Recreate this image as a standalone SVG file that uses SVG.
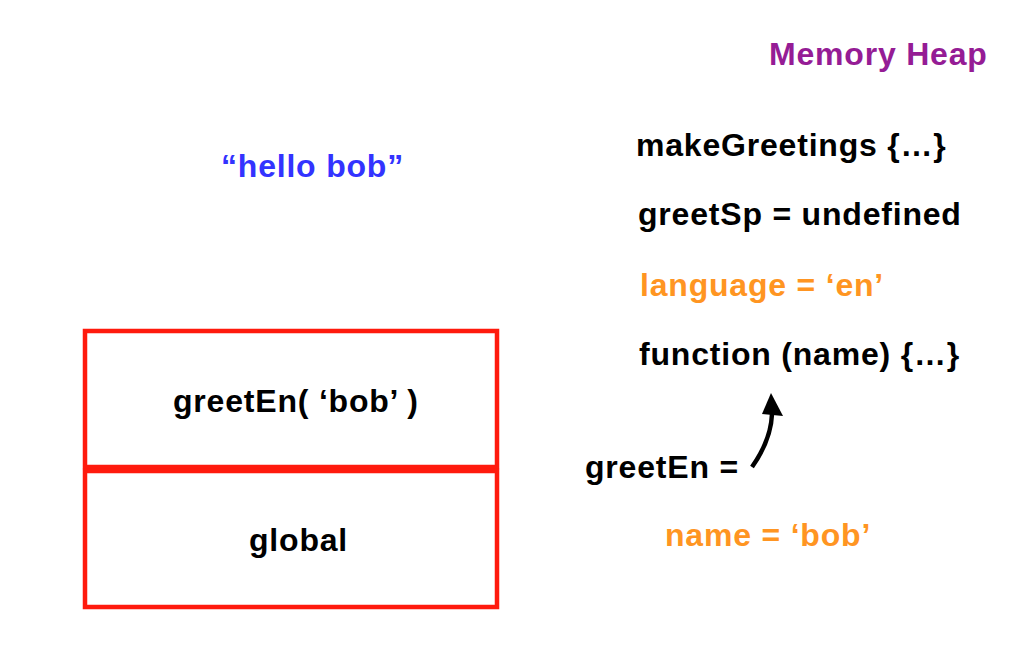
<svg xmlns="http://www.w3.org/2000/svg" width="1024" height="667" viewBox="0 0 1024 667">
<style>
text{font-family:"Liberation Sans",Arial,sans-serif;font-weight:bold;font-size:32px;letter-spacing:0.8px;fill:#000}
.purple{fill:#951C95}
.blue{fill:#3333FF}
.orange{fill:#FF9522}
.box{fill:none;stroke:#FF1A0D;stroke-width:4.5}
</style>
<rect width="1024" height="667" fill="#fff"/>
<text class="purple" x="769" y="65">Memory Heap</text>
<text class="blue" x="221" y="177">“hello bob”</text>
<g id="stack">
<g id="frame-greetEn">
<rect class="box" x="85" y="331" width="412" height="136"/>
<text x="173" y="412">greetEn( ‘bob’ )</text>
</g>
<g id="frame-global">
<rect class="box" x="85" y="471" width="412" height="136"/>
<text x="249" y="551">global</text>
</g>
</g>
<g id="heap">
<text x="636" y="156">makeGreetings {…}</text>
<text x="638" y="225">greetSp = undefined</text>
<text class="orange" x="640" y="296">language = ‘en’</text>
<text x="639" y="365">function (name) {…}</text>
<text x="585" y="478">greetEn =</text>
<text class="orange" x="665" y="546">name = ‘bob’</text>
</g>
<g id="connectors">
<path d="M752,467 Q771,440 772,414" fill="none" stroke="#000" stroke-width="4.5"/>
<path d="M771,393 L783,416 L762,414 z" fill="#000"/>
</g>
</svg>
